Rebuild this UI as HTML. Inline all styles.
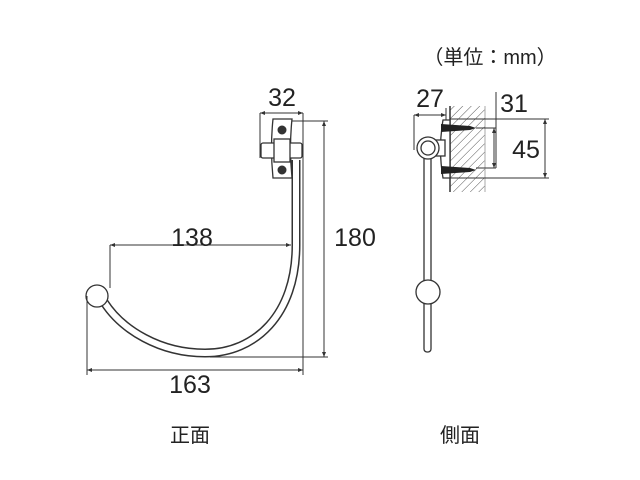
<!DOCTYPE html>
<html><head><meta charset="utf-8"><style>
html,body{margin:0;padding:0;background:#fff;}
svg{display:block;}
text{font-family:"Liberation Sans","Noto Sans CJK JP",sans-serif;fill:#222;}
</style></head><body>
<svg width="640" height="480" viewBox="0 0 640 480" xmlns="http://www.w3.org/2000/svg">
<defs>
<pattern id="h" width="6" height="6" patternUnits="userSpaceOnUse" patternTransform="rotate(45)">
<line x1="0" y1="0" x2="0" y2="6" stroke="#555" stroke-width="1"/>
</pattern>
<marker id="a" viewBox="0 0 10 10" refX="10" refY="5" markerWidth="7" markerHeight="5" orient="auto-start-reverse">
<path d="M0,1 L10,5 L0,9 z" fill="#333"/></marker>
</defs>
<g stroke="#333" stroke-width="1" fill="none">
<path id="rod" d="M296,160 L296,245 C296,315 255,353 205,353 C160,353 122,330 104,302" stroke="#333" stroke-width="9"/>
<path d="M296,160 L296,245 C296,315 255,353 205,353 C160,353 122,330 104,302" stroke="#fff" stroke-width="6"/>
<circle cx="97" cy="296" r="11" fill="#fff" stroke-width="1.3"/>
<path d="M273,119 L292,119 Q289,148 292,178 L273,178 Q270,148 273,119 z" fill="#fff" stroke-width="1.3"/>
<rect x="261" y="143" width="41" height="15" rx="2" fill="#fff" stroke-width="1.3"/>
<rect x="274" y="139" width="16" height="23" fill="#fff" stroke-width="1.3"/>
<circle cx="282" cy="130" r="4" fill="#333"/>
<circle cx="282" cy="170" r="4" fill="#333"/>
<line x1="260" y1="113" x2="260" y2="158"/>
<line x1="303" y1="113" x2="303" y2="375"/>
<line x1="260" y1="113" x2="303" y2="113" marker-start="url(#a)" marker-end="url(#a)"/>
<line x1="292" y1="121" x2="328" y2="121"/>
<line x1="210" y1="357" x2="328" y2="357"/>
<line x1="324" y1="121" x2="324" y2="357" marker-start="url(#a)" marker-end="url(#a)"/>
<line x1="110" y1="245" x2="110" y2="288"/>
<line x1="110" y1="245" x2="291" y2="245" marker-start="url(#a)" marker-end="url(#a)"/>
<line x1="87" y1="296" x2="87" y2="375"/>
<line x1="87" y1="370" x2="303" y2="370" marker-start="url(#a)" marker-end="url(#a)"/>
<rect x="450" y="106" width="35" height="86" fill="url(#h)" stroke="none"/>
<line x1="450" y1="106" x2="450" y2="192" stroke-width="1.5"/>
<line x1="485" y1="106" x2="485" y2="192" stroke="#aaa"/>
<path d="M443,120 L450,120 L450,178 L443,178 Q438,149 443,120 z" fill="#fff" stroke-width="1.3"/>
<rect x="425" y="140" width="20" height="16" fill="#fff" stroke-width="1.3"/>
<rect x="424" y="152" width="7" height="200" rx="3" fill="#fff" stroke-width="1.3"/>
<circle cx="428" cy="148" r="11" fill="#fff" stroke-width="1.3"/>
<circle cx="428" cy="148" r="7" fill="#fff" stroke-width="1.3"/>
<circle cx="428" cy="292" r="12" fill="#fff" stroke-width="1.3"/>
<path d="M441,124 L470,126 L476,128 L470,130 L441,132 z" fill="#222" stroke="none"/>
<path d="M441,166 L470,168 L476,170 L470,172 L441,174 z" fill="#222" stroke="none"/>
<line x1="414" y1="115" x2="414" y2="150"/>
<line x1="446" y1="108" x2="446" y2="120"/>
<line x1="414" y1="115" x2="446" y2="115" marker-start="url(#a)" marker-end="url(#a)"/>
<line x1="496" y1="92" x2="496" y2="168"/>
<line x1="476" y1="128" x2="496" y2="128"/>
<line x1="476" y1="168" x2="496" y2="168"/>
<line x1="494" y1="128" x2="494" y2="168" marker-start="url(#a)" marker-end="url(#a)"/>
<line x1="450" y1="119" x2="549" y2="119"/>
<line x1="450" y1="178" x2="549" y2="178"/>
<line x1="545" y1="119" x2="545" y2="178" marker-start="url(#a)" marker-end="url(#a)"/>
</g>
<g font-size="25">
<text x="282" y="106" text-anchor="middle">32</text>
<text x="355" y="246" text-anchor="middle">180</text>
<text x="192" y="246" text-anchor="middle">138</text>
<text x="190" y="393" text-anchor="middle">163</text>
<text x="430" y="107" text-anchor="middle">27</text>
<text x="514" y="112" text-anchor="middle">31</text>
<text x="526" y="158" text-anchor="middle">45</text>
</g>
<text x="490" y="64" font-size="20" text-anchor="middle">（単位：mm）</text>
<text x="190" y="442" font-size="20" text-anchor="middle">正面</text>
<text x="460" y="442" font-size="20" text-anchor="middle">側面</text>
</svg>
</body></html>
